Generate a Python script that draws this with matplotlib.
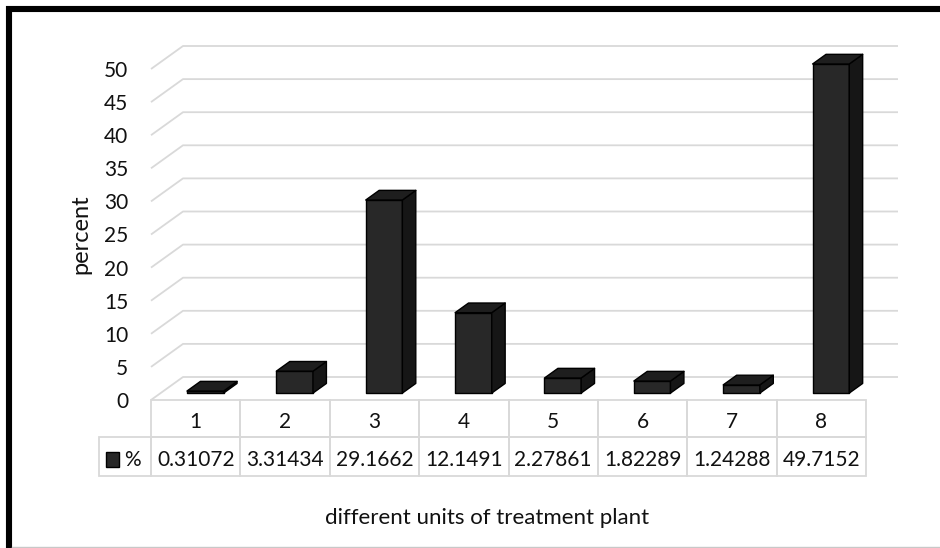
import matplotlib.pyplot as plt
from matplotlib.patches import Polygon, Rectangle
from matplotlib.lines import Line2D
from matplotlib.transforms import blended_transform_factory

units = ['1', '2', '3', '4', '5', '6', '7', '8']
percent = [0.31072, 3.31434, 29.1662, 12.1491, 2.27861, 1.82289, 1.24288, 49.7152]
y_ticks = [0, 5, 10, 15, 20, 25, 30, 35, 40, 45, 50]
series_name = '%'

plt.rcParams['font.family'] = ['Lato', 'DejaVu Sans']
text_color = '#111111'
grid_color = '#d9d9d9'

W, H = 940, 548
fig = plt.figure(figsize=(W / 100, H / 100), dpi=100)

# front plane of the plot area (pixels)
left, right, base, top = 151, 866, 400, 69
ax = fig.add_axes([left / W, 1 - base / H, (right - left) / W, (base - top) / H])
n = len(units)
ax.set_xlim(0, n)
ax.set_ylim(0, y_ticks[-1])
for s in ax.spines.values():
    s.set_visible(False)
ax.set_xticks([])
ax.set_yticks(y_ticks)
ax.tick_params(axis='y', length=0, pad=16.5, labelsize=15, labelcolor=text_color)
ax.set_ylabel('percent', fontsize=17, color=text_color, labelpad=9)

# depth of the fake 3d box, in data units
px_x = (right - left) / n
px_y = (base - top) / y_ticks[-1]
DX = 32 / px_x
DY = 23 / px_y

# side wall + back wall gridlines
for v in y_ticks:
    ax.plot([0, DX, n + DX], [v, v + DY, v + DY], color=grid_color, lw=1.3,
            clip_on=False, zorder=0, solid_capstyle='butt')

# 3d columns
f1, f2 = 0.30, 0.72
bw = 0.41
ddx = (f2 - f1) * DX
ddy = (f2 - f1) * DY
for i, v in enumerate(percent):
    x0 = i + 0.5 - bw / 2 + f1 * DX
    y0 = f1 * DY
    x1 = x0 + bw
    kw = dict(edgecolor='black', lw=1, clip_on=False, zorder=3, joinstyle='round')
    ax.add_patch(Rectangle((x0, y0), bw, v, facecolor='#282828', **kw))
    ax.add_patch(Polygon([(x1, y0), (x1 + ddx, y0 + ddy), (x1 + ddx, y0 + ddy + v),
                          (x1, y0 + v)], facecolor='#161616', **kw))
    ax.add_patch(Polygon([(x0, y0 + v), (x1, y0 + v), (x1 + ddx, y0 + v + ddy),
                          (x0 + ddx, y0 + v + ddy)], facecolor='#1e1e1e', **kw))

# data table under the plot: x in category units, y in axes fraction
tr = blended_transform_factory(ax.transData, ax.transAxes)
hh = 37 / (base - top)
rh = 39 / (base - top)
nudge = 3 / (base - top)
lab_w = 52 / px_x
cell_kw = dict(transform=tr, facecolor='none', edgecolor=grid_color, lw=1.3, clip_on=False)
for j, u in enumerate(units):
    ax.add_patch(Rectangle((j, -hh), 1, hh, **cell_kw))
    ax.add_patch(Rectangle((j, -hh - rh), 1, rh, **cell_kw))
    ax.text(j + 0.5, -hh / 2 - nudge, u, transform=tr, ha='center', va='center',
            fontsize=15, color=text_color)
    ax.text(j + 0.5, -hh - rh / 2 - nudge, f'{percent[j]:g}', transform=tr, ha='center',
            va='center', fontsize=15, color=text_color)
ax.add_patch(Rectangle((-lab_w, -hh - rh), lab_w, rh, **cell_kw))
ax.text(-10 / px_x, -hh - rh / 2 - nudge, series_name, transform=tr, ha='right',
        va='center', fontsize=15, color=text_color)
# legend key
ax.add_patch(Rectangle((-45 / px_x, -hh - rh / 2 - 7.5 / (base - top) - nudge), 13 / px_x,
                       15 / (base - top), transform=tr, facecolor='#282828',
                       edgecolor='black', lw=1, clip_on=False))

fig.text(487 / W, 1 - 518 / H, 'different units of treatment plant', fontsize=16,
         color=text_color, ha='center', va='center')

# chart frame
fig.add_artist(Line2D([6 / W, 1], [1 - 9 / H, 1 - 9 / H], color='black', lw=4.4,
                      transform=fig.transFigure, solid_capstyle='butt'))
fig.add_artist(Line2D([9 / W, 9 / W], [0, 1 - 6 / H], color='black', lw=4.4,
                      transform=fig.transFigure, solid_capstyle='butt'))
fig.add_artist(Line2D([12 / W, 1], [1 - 546.5 / H, 1 - 546.5 / H], color='#c8c8c8', lw=1,
                      transform=fig.transFigure))

fig.savefig('out.png', dpi=100)
